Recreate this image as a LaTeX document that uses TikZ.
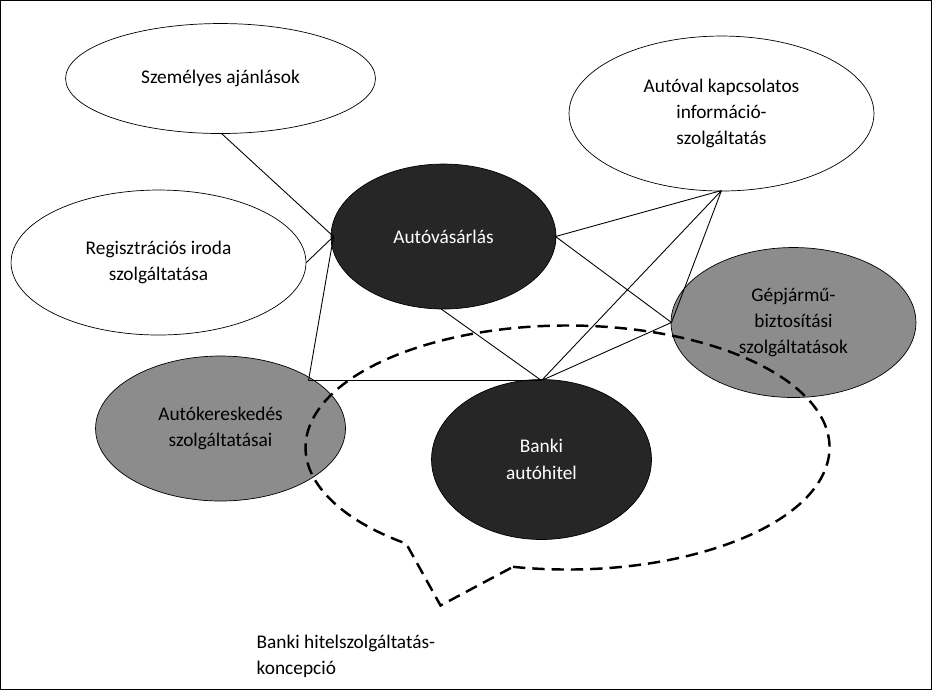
\documentclass[tikz,border=0pt]{standalone}
\usepackage{fontspec}
\setmainfont{Carlito}
\usetikzlibrary{shapes.geometric}
\begin{document}
\begin{tikzpicture}[x=0.02cm,y=-0.02cm]
            \tikzstyle{white oval}=[ellipse,draw,fill=white,align=center,inner sep=0pt,font=\fontsize{11}{15}\selectfont]
            \tikzstyle{black oval}=[white oval,fill=black!85,text=white]
            \tikzstyle{grey oval}=[white oval,fill=black!45]
            \tikzstyle{link}=[draw,line width=0.5pt]

            \draw[line width=0.6pt] (0,0) rectangle (931,689);

            % outer services
            \node(szem)[white oval,minimum width=6.2cm,minimum height=2.2cm] at (220,78) {Személyes ajánlások};
            \node(info)[white oval,minimum width=6.1cm,minimum height=3.1cm] at (721,113) {Autóval kapcsolatos\\információ-\\szolgáltatás};
            \node(reg)[white oval,minimum width=5.9cm,minimum height=2.9cm] at (158,262) {Regisztrációs iroda\\szolgáltatása};

            % core
            \node(vasar)[black oval,minimum width=4.5cm,minimum height=2.9cm] at (443,236) {Autóvásárlás};
            \node(gep)[grey oval,minimum width=4.9cm,minimum height=3.0cm] at (793,322) {Gépjármű-\\biztosítási\\szolgáltatások};
            \node(keresk)[grey oval,minimum width=5.0cm,minimum height=2.9cm] at (220,428) {Autókereskedés\\szolgáltatásai};
            \node(hitel)[black oval,minimum width=4.4cm,minimum height=3.2cm] at (541,459) {Banki\\autóhitel};

            \coordinate(szemB) at (221,133);
            \coordinate(vasarL) at (333,236);
            \coordinate(vasarR) at (555,236);
            \coordinate(vasarB) at (440,308);
            \coordinate(infoB) at (721,190);
            \coordinate(gepL) at (671,322);
            \coordinate(kereskT) at (308,380);
            \coordinate(hitelT) at (541,380);

            \begin{scope}[on background layer/.try]
            \end{scope}
            \path[link] (szemB) -- (vasarL) (reg.east) -- (vasarL) (vasarL) -- (kereskT)
                (kereskT) -- (hitelT) (vasarB) -- (hitelT) (vasarR) -- (infoB)
                (vasarR) -- (gepL) (hitelT) -- (infoB) (hitelT) -- (gepL) (infoB) -- (gepL);

            % concept callout
            \draw[line width=1.4pt,dash pattern=on 7pt off 4pt]
                (567,447) ++(258:262 and -122) arc[start angle=258,end angle=592,x radius=262,y radius=-122]
                -- (440,605) -- cycle;
            \node(konc)[anchor=north west,align=left,font=\fontsize{11}{15}\selectfont] at (250,628) {Banki hitelszolgáltatás-\\koncepció};
        \end{tikzpicture}
\end{document}
